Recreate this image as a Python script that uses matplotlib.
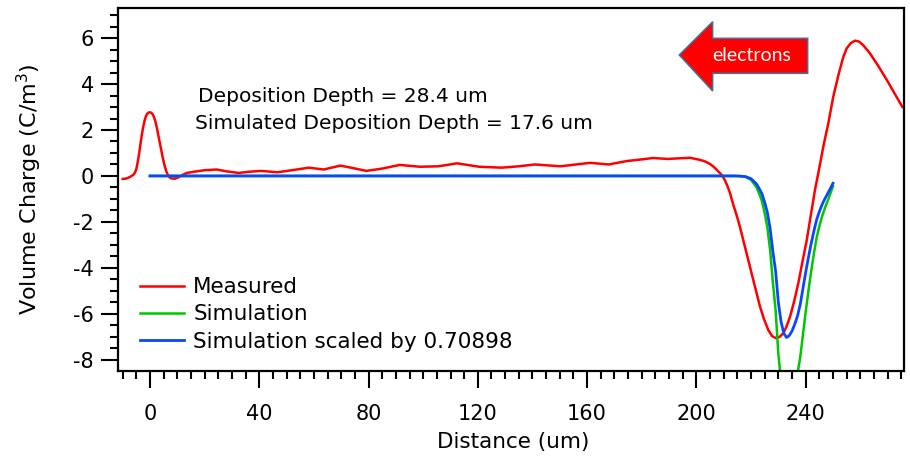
import numpy as np
import matplotlib
matplotlib.use("Agg")
import matplotlib.pyplot as plt
from matplotlib.ticker import MultipleLocator
from matplotlib.patches import Polygon

plt.rcParams['font.family'] = ['DejaVu Sans']
plt.rcParams['mathtext.fontset'] = 'dejavusans'
plt.rcParams['axes.unicode_minus'] = False

# Measured volume charge profile (distance in um, charge in C/m^3)
measured_x = [-10, -9, -8, -7, -6, -5.5, -5, -4.5, -4, -3.5, -3, -2.5, -2, -1.5,
              -1, -0.5, 0, 0.5, 1, 1.5, 2, 2.5, 3, 3.5, 4, 4.5, 5, 5.5, 6, 6.5,
              7, 7.5, 8, 9, 10, 11, 12, 13.5, 17, 20, 24.4, 28, 32.5, 36,
              40.6, 46.7, 52, 58.2, 63.6, 69.7, 74, 79.2, 85, 91.4, 98.8, 105.6,
              112.4, 120.5, 128.7, 135, 140.9, 150.3, 156, 161.1, 167.9, 174.6,
              180, 184.1, 189.6, 194, 197.7, 201.3, 203, 205, 206.5, 208, 209.3,
              210.5, 211.5, 212.3, 213.5, 214.7, 215.9, 217.7, 219.6, 221.5,
              223.3, 224.8, 226.3, 227.7, 229.1, 230.5, 231.8, 233, 234.3,
              235.8, 237.3, 238.8, 240.4, 241.9, 243.4, 245, 246.5, 248.3,
              250.1, 252, 253.8, 255, 256.5, 258.1, 259.5, 261, 263.5, 266.5,
              269.7, 272.5, 275.4]
measured_q = [-0.13, -0.12, -0.08, -0.02, 0.06, 0.15, 0.3, 0.6, 0.95, 1.38, 1.78,
              2.12, 2.4, 2.6, 2.71, 2.76, 2.77, 2.75, 2.68, 2.55, 2.36, 2.1, 1.8,
              1.5, 1.2, 0.9, 0.62, 0.38, 0.19, 0.05, -0.04, -0.09, -0.11, -0.12,
              -0.08, -0.02, 0.05, 0.13, 0.2, 0.25, 0.28, 0.2, 0.13, 0.18, 0.22,
              0.16, 0.25, 0.36, 0.28, 0.45, 0.35, 0.22, 0.32, 0.48, 0.4, 0.42,
              0.55, 0.4, 0.36, 0.42, 0.5, 0.42, 0.5, 0.57, 0.5, 0.65, 0.72, 0.78,
              0.74, 0.77, 0.79, 0.70, 0.64, 0.52, 0.38, 0.2, 0.04, -0.2, -0.48,
              -0.75, -1.25, -1.7, -2.2, -3.05, -3.95, -4.85, -5.69, -6.25, -6.7,
              -6.97, -7.06, -7.0, -6.85, -6.55, -6.12, -5.45, -4.67, -3.75,
              -2.79, -1.7, -0.61, 0.35, 1.3, 2.3, 3.45, 4.4, 5.19, 5.55, 5.78,
              5.89, 5.85, 5.7, 5.34, 4.8, 4.18, 3.6, 3.0]

# Simulated deposition profile
sim_x = [0, 50, 100, 150, 200, 210, 214, 216, 218, 220, 222, 223, 224, 225, 226,
         227, 228, 229, 230, 231, 232, 233, 234, 235, 236, 237, 238, 239, 240,
         241, 242, 243, 244, 245, 246, 247, 248, 249, 250]
sim_q = [0, 0, 0, 0, 0, 0, 0, -0.01, -0.04, -0.17, -0.49, -0.78, -1.10, -1.62,
         -2.26, -3.24, -4.65, -5.85, -7.76, -8.96, -9.66, -9.92, -9.80, -9.52,
         -9.10, -8.60, -7.90, -6.91, -5.92, -5.01, -4.16, -3.39, -2.69, -2.19,
         -1.76, -1.41, -1.10, -0.78, -0.45]
scale_factor = 0.70898
scaled_q = [q * scale_factor for q in sim_q]

x_ticks = [0, 40, 80, 120, 160, 200, 240]
y_ticks = [-8, -6, -4, -2, 0, 2, 4, 6]

fig = plt.figure(figsize=(9.1, 4.62), dpi=100)
ax = fig.add_axes([118.3 / 910, 91 / 462, 786 / 910, 363 / 462])

ax.plot(measured_x, measured_q, color='#FF0000', lw=1.8, label='Measured',
        solid_joinstyle='round')
ax.plot(sim_x, sim_q, color='#00C800', lw=1.8, label='Simulation',
        solid_joinstyle='round')
ax.plot(sim_x, scaled_q, color='#0A46FF', lw=2.0,
        label=f'Simulation scaled by {scale_factor}', solid_joinstyle='round')

ax.set_xlim(-11.6, 276.1)
ax.set_ylim(-8.49, 7.31)
ax.set_xticks(x_ticks)
ax.set_yticks(y_ticks)
ax.xaxis.set_minor_locator(MultipleLocator(5))
ax.yaxis.set_minor_locator(MultipleLocator(0.5))
ax.tick_params(which='major', direction='out', length=12.5, width=1.5,
               labelsize=15, color='black')
ax.tick_params(which='minor', direction='out', length=6, width=1.5,
               color='black')
ax.tick_params(axis='x', which='major', pad=11)
ax.tick_params(axis='y', which='major', pad=5)
for sp in ax.spines.values():
    sp.set_linewidth(1.6)
    sp.set_color('black')

ax.set_xlabel('Distance (um)', fontsize=15.5)
ax.xaxis.set_label_coords(0.502, -0.1667)
ax.xaxis.label.set_verticalalignment('top')
ax.set_ylabel(r'Volume Charge (C/m$^{3}$)', fontsize=16)
ax.yaxis.set_label_coords(-0.094, 0.5)

ax.legend(loc='upper left', bbox_to_anchor=(0.0276, 0.258), frameon=False,
          fontsize=15.5, handlelength=2.05, handletextpad=0.42,
          labelspacing=0.33, borderpad=0, borderaxespad=0)

ax.text(0.1014, 0.742, 'Deposition Depth = 28.4 um', transform=ax.transAxes,
        fontsize=14.5, ha='left', va='baseline')
ax.text(0.0976, 0.666, 'Simulated Deposition Depth = 17.6 um',
        transform=ax.transAxes, fontsize=14.5, ha='left', va='baseline')

# Direction of electron travel
arrow_pts = [(0.7137, 0.8705), (0.7562, 0.9623), (0.7562, 0.9165),
             (0.8771, 0.9165), (0.8771, 0.8201), (0.7562, 0.8201),
             (0.7562, 0.7713)]
ax.add_patch(Polygon(arrow_pts, closed=True, transform=ax.transAxes,
                     facecolor='#FF0000', edgecolor='#41719C', lw=1.1,
                     zorder=5))
ax.text(0.8059, 0.8678, 'electrons', transform=ax.transAxes, color='white',
        fontsize=14, family=['Lato', 'DejaVu Sans'], ha='center', va='center',
        zorder=6)

fig.savefig('out.png', dpi=100)
